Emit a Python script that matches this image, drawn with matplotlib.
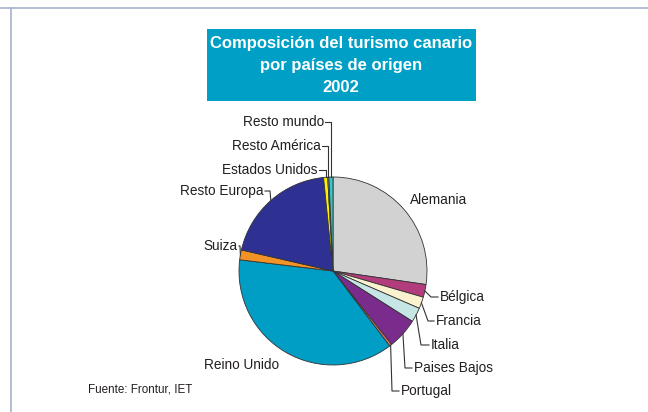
import numpy as np
import matplotlib
matplotlib.use("Agg")
import matplotlib.pyplot as plt
from matplotlib.patches import Rectangle

plt.rcParams['font.family'] = ['Liberation Sans', 'DejaVu Sans']

# Data (percent of tourists)
paises = ["Alemania", "Bélgica", "Francia", "Italia", "Paises Bajos", "Portugal",
          "Reino Unido", "Suiza", "Resto Europa", "Estados Unidos",
          "Resto América", "Resto mundo"]
cuotas = [27.3, 2.2, 2.0, 2.5, 5.3, 0.4, 37.2, 1.7, 19.8, 0.7, 0.2, 0.7]
colores = ["#d2d2d2", "#b23c7c", "#fbf3cf", "#c6e6e6", "#7a2c8c", "#f07a66",
           "#009dc4", "#f39325", "#2e3192", "#fff200", "#f4f4f4", "#3cc4c8"]

W, H = 648, 412
def Y(y):
    return H - y

fig = plt.figure(figsize=(6.48, 4.12), dpi=100)
ax = fig.add_axes([0, 0, 1, 1])

# page frame
ax.plot([0, W], [Y(8), Y(8)], color="#a4b2cc", lw=1.2)
ax.plot([11, 11], [Y(8), 0], color="#a4b2cc", lw=1.2)

# title box
ax.add_patch(Rectangle((207, Y(101)), 269, 72, color="#00a0c6", lw=0))
ax.text(341, Y(65.5), "Composición del turismo canario\npor países de origen\n2002",
        ha="center", va="center", color="white", fontsize=12, fontweight="bold",
        linespacing=1.62)

# pie
cx, cy, r = 333, Y(271), 94
wedges, _ = ax.pie(cuotas, colors=colores, startangle=90, counterclock=False,
                   center=(cx, cy), radius=r, frame=True,
                   wedgeprops=dict(edgecolor="#333333", linewidth=0.6))
ax.set_xlim(0, W)
ax.set_ylim(0, H)
ax.set_aspect('equal')
ax.axis('off')

def borde(i):
    w = wedges[i]
    th = np.deg2rad((w.theta1 + w.theta2) / 2)
    return cx + r * np.cos(th), cy + r * np.sin(th)

txt = dict(fontsize=9.8, color="#231f20", va="center")
lc = dict(color="#333333", lw=0.8)

# labels without leader lines
ax.text(410, Y(200), "Alemania", ha="left", **txt)
ax.text(204, Y(365), "Reino Unido", ha="left", **txt)

# labels with leader lines: (index, text x, text y, elbow x, ha)
etiquetas = [
    (11, 324, 122, None, "right"),
    (10, 321, 146, None, "right"),
    (9, 318, 170, None, "right"),
    (8, 264, 191, 270, "right"),
    (7, 238, 246, 240, "right"),
    (1, 440, 297, 431, "left"),
    (2, 436, 321, 428, "left"),
    (3, 431, 345, 421, "left"),
    (4, 414, 368, 405, "left"),
    (5, 401, 391, 392, "left"),
]
for i, tx, ty, ex, ha in etiquetas:
    bx, by = borde(i)
    if ex is None:
        ex = bx
    ax.text(tx, Y(ty), paises[i], ha=ha, **txt)
    sx = tx + 1 if ha == "right" else tx - 2
    ax.plot([sx, ex, bx], [Y(ty), Y(ty), by], **lc)

ax.text(88, Y(389), "Fuente: Frontur, IET", ha="left", va="center",
        fontsize=8.4, color="#231f20")

plt.savefig("out.png", dpi=100)
